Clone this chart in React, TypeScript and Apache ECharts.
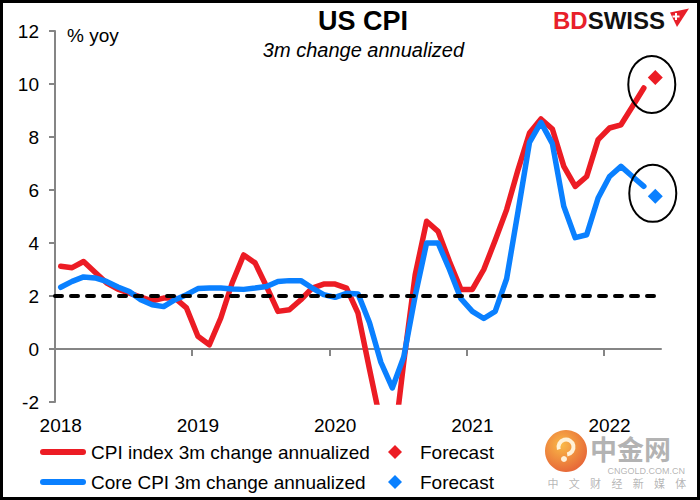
import { useEffect, useRef } from 'react';
import * as echarts from 'echarts';

const FONT = 'Arial, "Liberation Sans", sans-serif';
const CJK = '"Noto Sans CJK SC", sans-serif';
const RED = '#ec1c24';
const BLUE = '#0a80ff';
const AXIS = '#858585';

// Monthly readings from Jan 2018 (index 0) to Apr 2022 (index 51)
const START_YEAR = 2018;
const headline = [
  3.12, 3.07, 3.3, 2.9, 2.5, 2.26, 2.11, 1.96, 1.82, 1.92, 1.92, 1.55,
  0.48, 0.16, 1.17, 2.5, 3.55, 3.25, 2.36, 1.42, 1.48, 1.86, 2.3, 2.45,
  2.45, 2.3, 1.35, -0.75, -2.8, -4.1, -0.5, 2.8, 4.82, 4.44, 3.3, 2.25,
  2.25, 3.0, 4.1, 5.26, 6.77, 8.15, 8.68, 8.3, 6.89, 6.14, 6.51, 7.9,
  8.34, 8.46, 9.15, 9.85,
];
const core = [
  2.33, 2.55, 2.72, 2.68, 2.55, 2.34, 2.17, 1.86, 1.67, 1.6, 1.86, 2.05,
  2.28, 2.3, 2.3, 2.26, 2.25, 2.3, 2.36, 2.55, 2.58, 2.58, 2.3, 2.05,
  1.95, 2.1, 2.08, 1.0, -0.5, -1.47, -0.3, 2.0, 4.0, 4.0, 3.0, 1.9,
  1.42, 1.15, 1.42, 2.65, 5.2, 7.8, 8.55, 7.75, 5.38, 4.2, 4.31, 5.7,
  6.51, 6.89, 6.51, 6.14,
];
const forecastMonth = 52;
const headlineForecast = 10.25;
const coreForecast = 5.76;
const target = 2;
const targetSpan = [0, 52.5];
const yearStarts = [0, 12, 24, 36, 48];
const monthsShown = 53;

const HEAD_NAME = 'CPI index 3m change annualized';
const CORE_NAME = 'Core CPI 3m change annualized';
const HEAD_FC = 'Forecast (CPI)';
const CORE_FC = 'Forecast (Core)';

// each month sits in the middle of its slot on the date axis
const toPoints = (vals: number[]) => vals.map((v, i) => [i + 0.5, v]);

const LINE_ICON = 'path://M3,0 L43,0 A3,3 0 0 1 43,6 L3,6 A3,3 0 0 1 3,0 Z';
// a diamond centred in a 40 x 14 slot
const DIAMOND_ICON = 'path://M0,0 M40,14 M20,0 L27,7 L20,14 L13,7 Z';

export default function App() {
  const ref = useRef<HTMLDivElement>(null);

  useEffect(() => {
    document.body.style.margin = '0';
    if (!ref.current) return;
    const chart = echarts.init(ref.current, undefined, { renderer: 'svg' });

    const legendText = { fontSize: 19, color: '#000', fontFamily: FONT };
    const legendBase = { padding: 0, selectedMode: false as const, symbolKeepAspect: true, textStyle: legendText };

    const option: any = {
      animation: false,
      textStyle: { fontFamily: FONT },
      grid: { left: 55, right: 39, top: 31, bottom: 98, containLabel: false },
      xAxis: [
        {
          // zero line with the year tick marks hanging below it
          type: 'value',
          min: 0,
          max: monthsShown,
          position: 'top',
          axisLine: { show: true, onZero: true, lineStyle: { color: AXIS, width: 2 } },
          axisTick: { show: true, inside: true, length: 7, customValues: yearStarts, lineStyle: { color: AXIS, width: 2 } },
          axisLabel: { show: false },
          splitLine: { show: false },
        },
        {
          // year labels along the bottom of the plot
          type: 'value',
          min: 0,
          max: monthsShown,
          position: 'bottom',
          axisLine: { show: false, onZero: false },
          axisTick: { show: false },
          axisLabel: {
            show: true,
            customValues: yearStarts.map((m) => m + 0.5),
            formatter: (v: number) => String(START_YEAR + Math.floor(v / 12)),
            fontSize: 19,
            color: '#000',
            margin: 14,
            fontFamily: FONT,
          },
          splitLine: { show: false },
        },
      ],
      yAxis: {
        type: 'value',
        min: -2,
        max: 12,
        interval: 2,
        axisLine: { show: true, onZero: false, lineStyle: { color: AXIS, width: 2 } },
        axisTick: { show: true, length: 6, lineStyle: { color: AXIS, width: 2 } },
        axisLabel: { fontSize: 19, color: '#000', margin: 16, fontFamily: FONT },
        splitLine: { show: false },
      },
      legend: [
        { ...legendBase, left: 40, top: 442.5, itemWidth: 46, itemHeight: 6,
          data: [{ name: HEAD_NAME, icon: LINE_ICON, itemStyle: { color: RED, borderWidth: 0, opacity: 1 } }] },
        { ...legendBase, left: 375, top: 442.5, itemWidth: 40, itemHeight: 14, formatter: () => 'Forecast',
          data: [{ name: HEAD_FC, icon: DIAMOND_ICON, itemStyle: { color: RED, borderWidth: 0, opacity: 1 } }] },
        { ...legendBase, left: 40, top: 472.5, itemWidth: 46, itemHeight: 6,
          data: [{ name: CORE_NAME, icon: LINE_ICON, itemStyle: { color: BLUE, borderWidth: 0, opacity: 1 } }] },
        { ...legendBase, left: 375, top: 472.5, itemWidth: 40, itemHeight: 14, formatter: () => 'Forecast',
          data: [{ name: CORE_FC, icon: DIAMOND_ICON, itemStyle: { color: BLUE, borderWidth: 0, opacity: 1 } }] },
      ],
      series: [
        {
          name: HEAD_NAME,
          type: 'line',
          xAxisIndex: 0,
          data: toPoints(headline),
          symbol: 'none',
          showSymbol: false,
          clip: true,
          color: RED,
          lineStyle: { color: RED, width: 5.5, cap: 'round', join: 'round' },
          z: 2,
        },
        {
          name: CORE_NAME,
          type: 'line',
          xAxisIndex: 0,
          data: toPoints(core),
          symbol: 'none',
          showSymbol: false,
          clip: true,
          color: BLUE,
          lineStyle: { color: BLUE, width: 5.5, cap: 'round', join: 'round' },
          z: 3,
        },
        {
          name: 'Target',
          type: 'line',
          xAxisIndex: 0,
          data: targetSpan.map((m) => [m, target]),
          symbol: 'none',
          showSymbol: false,
          color: '#000',
          lineStyle: { color: '#000', width: 4, type: [7, 9], cap: 'round' },
          z: 4,
        },
        {
          name: HEAD_FC,
          type: 'scatter',
          xAxisIndex: 0,
          data: [[forecastMonth + 0.5, headlineForecast]],
          symbol: 'diamond',
          symbolSize: 15,
          itemStyle: { color: RED, opacity: 1 },
          z: 5,
        },
        {
          name: CORE_FC,
          type: 'scatter',
          xAxisIndex: 0,
          data: [[forecastMonth + 0.5, coreForecast]],
          symbol: 'diamond',
          symbolSize: 15,
          itemStyle: { color: BLUE, opacity: 1 },
          z: 5,
        },
      ],
    };

    chart.setOption(option);

    const pHead = chart.convertToPixel({ xAxisIndex: 0, yAxisIndex: 0 }, [forecastMonth + 0.5, headlineForecast]) as number[];
    const pCore = chart.convertToPixel({ xAxisIndex: 0, yAxisIndex: 0 }, [forecastMonth + 0.5, coreForecast]) as number[];

    const spaced = '中文财经新媒体'.split('');

    chart.setOption({
      graphic: [
        // frame
        { type: 'rect', shape: { x: 1.5, y: 1.5, width: 697, height: 497 }, style: { fill: 'none', stroke: '#000', lineWidth: 3 }, z: 20 },
        // titles
        { type: 'text', style: { text: 'US CPI', x: 363, y: 21, align: 'center', verticalAlign: 'middle', font: `bold 27px ${FONT}`, fill: '#000' } },
        { type: 'text', style: { text: '3m change annualized', x: 363.5, y: 50, align: 'center', verticalAlign: 'middle', font: `italic 20px ${FONT}`, fill: '#000' } },
        { type: 'text', style: { text: '% yoy', x: 67, y: 35, align: 'left', verticalAlign: 'middle', font: `19px ${FONT}`, fill: '#000' } },
        // brand mark
        {
          type: 'text',
          style: {
            text: '{r|BD}{k|SWISS}',
            x: 553,
            y: 20,
            align: 'left',
            verticalAlign: 'middle',
            rich: {
              r: { fill: '#e8202a', fontSize: 24, fontWeight: 'bold', fontFamily: FONT },
              k: { fill: '#111', fontSize: 24, fontWeight: 'bold', fontFamily: FONT },
            },
          },
        },
        { type: 'polygon', shape: { points: [[670, 12.5], [689, 8.5], [677, 27]] }, style: { fill: '#e8202a' } },
        { type: 'rect', shape: { x: 672.5, y: 15.5, width: 7, height: 2 }, style: { fill: '#fff' } },
        { type: 'rect', shape: { x: 675, y: 13, width: 2, height: 7 }, style: { fill: '#fff' } },
        // forecast call-outs
        { type: 'ellipse', shape: { cx: pHead[0] - 3.5, cy: pHead[1] + 7, rx: 23.5, ry: 28.5 }, style: { fill: 'none', stroke: '#000', lineWidth: 2 }, z: 10 },
        { type: 'ellipse', shape: { cx: pCore[0] - 2.5, cy: pCore[1] - 3, rx: 23.5, ry: 28.5 }, style: { fill: 'none', stroke: '#000', lineWidth: 2 }, z: 10 },
        // watermark
        {
          type: 'circle',
          shape: { cx: 566, cy: 451, r: 21 },
          style: {
            fill: new echarts.graphic.RadialGradient(0.4, 0.35, 0.8, [
              { offset: 0, color: '#f9b233' },
              { offset: 1, color: '#e0451f' },
            ]),
            opacity: 0.9,
          },
          z: 1,
        },
        { type: 'arc', shape: { cx: 566, cy: 447, r: 7.5, startAngle: Math.PI * 0.9, endAngle: Math.PI * 2.45 }, style: { stroke: '#fff6e0', lineWidth: 4, fill: 'none', opacity: 0.95 }, z: 2 },
        { type: 'circle', shape: { cx: 564, cy: 459, r: 3 }, style: { fill: '#fff6e0', opacity: 0.95 }, z: 2 },
        { type: 'text', style: { text: '中金网', x: 590, y: 448, align: 'left', verticalAlign: 'middle', font: `bold 27px ${CJK}`, fill: '#9a9a9a', opacity: 0.75 }, z: 1 },
        { type: 'text', style: { text: 'CNGOLD.COM.CN', x: 685, y: 471, align: 'right', verticalAlign: 'middle', font: `9px ${FONT}`, fill: '#a8a8a8', opacity: 0.85 }, z: 1 },
        ...spaced.map((ch, k) => ({
          type: 'text',
          style: { text: ch, x: 553 + k * 21.3, y: 483, align: 'center', verticalAlign: 'middle', font: `11px ${CJK}`, fill: '#a8a8a8', opacity: 0.85 },
          z: 1,
        })),
      ],
    });

    return () => chart.dispose();
  }, []);

  return <div ref={ref} style={{ width: 700, height: 500 }} />;
}
